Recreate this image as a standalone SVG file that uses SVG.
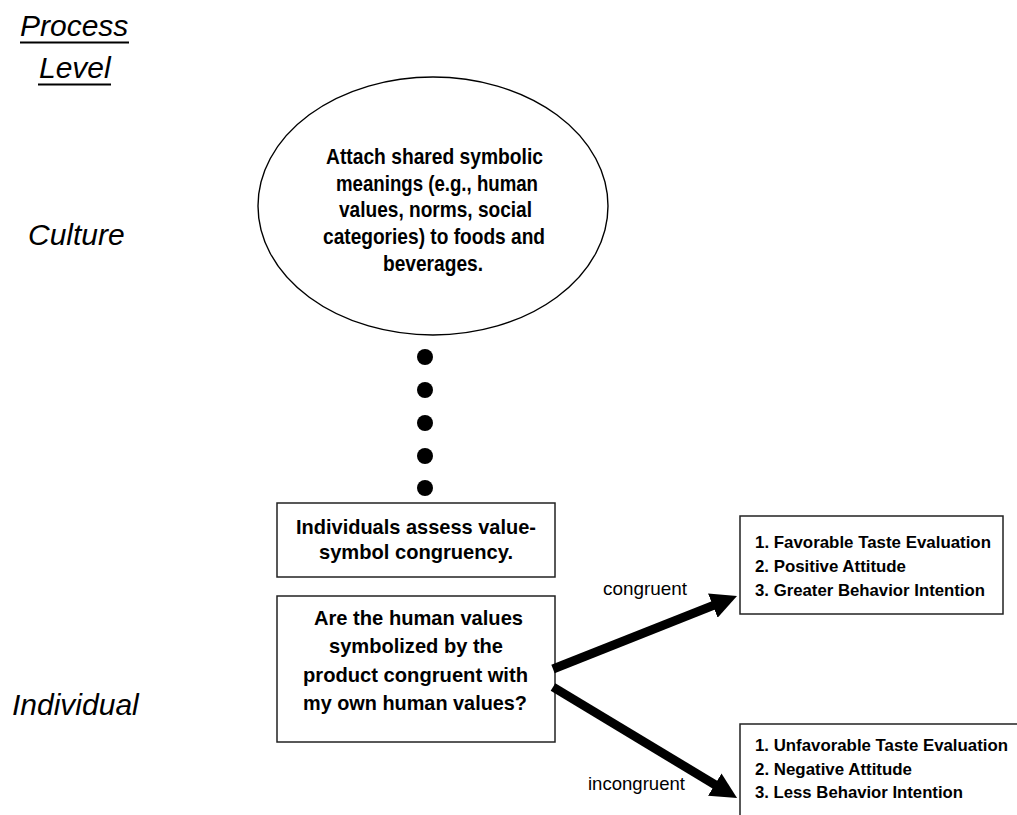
<svg xmlns="http://www.w3.org/2000/svg" width="1017" height="815" viewBox="0 0 1017 815">
<style>
.lvl{font-family:"Liberation Sans",Arial,sans-serif;font-style:italic;font-size:30px;fill:#000}
.b{font-family:"Liberation Sans",Arial,sans-serif;font-weight:bold;fill:#000}
.e{font-size:22px}
.bx{font-size:21px}
.r{font-size:17px}
.lab{font-family:"Liberation Sans",Arial,sans-serif;font-size:19px;fill:#000}
.box{fill:#fff;stroke:#222;stroke-width:1.5}
.arrow{stroke:#000;stroke-width:9;fill:none;marker-end:url(#head)}
</style>
<defs>
<marker id="head" markerUnits="userSpaceOnUse" viewBox="0 0 26 26" markerWidth="26" markerHeight="26" refX="2" refY="13" orient="auto">
<path d="M0,0 L26,13 L0,26 z" fill="#000"/>
</marker>
</defs>
<rect width="1017" height="815" fill="#fff"/>
<g id="level-labels">
<text class="lvl" x="20" y="36">Process</text>
<line x1="20" y1="42.5" x2="129" y2="42.5" stroke="#000" stroke-width="2"/>
<text class="lvl" x="39" y="78">Level</text>
<line x1="38" y1="84.5" x2="111" y2="84.5" stroke="#000" stroke-width="2"/>
<text class="lvl" x="28" y="245">Culture</text>
<text class="lvl" x="12" y="715">Individual</text>
</g>
<g id="culture-ellipse">
<ellipse cx="433" cy="206" rx="175" ry="129" fill="#fff" stroke="#000" stroke-width="1.4"/>
<text class="b e" x="326" y="163.5" textLength="217" lengthAdjust="spacingAndGlyphs">Attach shared symbolic</text>
<text class="b e" x="336" y="190.5" textLength="202" lengthAdjust="spacingAndGlyphs">meanings (e.g., human</text>
<text class="b e" x="339" y="217.3" textLength="193" lengthAdjust="spacingAndGlyphs">values, norms, social</text>
<text class="b e" x="323" y="244" textLength="222" lengthAdjust="spacingAndGlyphs">categories) to foods and</text>
<text class="b e" x="383" y="270.7" textLength="100" lengthAdjust="spacingAndGlyphs">beverages.</text>
</g>
<g id="dots" fill="#000">
<circle cx="425" cy="357" r="8"/>
<circle cx="425" cy="390" r="8"/>
<circle cx="425" cy="423" r="8"/>
<circle cx="425" cy="456" r="8"/>
<circle cx="425" cy="488" r="8"/>
</g>
<g id="assess-box">
<rect class="box" x="277" y="503" width="278" height="74"/>
<text class="b bx" x="296" y="534" textLength="240" lengthAdjust="spacingAndGlyphs">Individuals assess value-</text>
<text class="b bx" x="319" y="559" textLength="194" lengthAdjust="spacingAndGlyphs">symbol congruency.</text>
</g>
<g id="question-box">
<rect class="box" x="277" y="596" width="278" height="146"/>
<text class="b bx" x="314" y="625" textLength="209" lengthAdjust="spacingAndGlyphs">Are the human values</text>
<text class="b bx" x="329" y="653" textLength="174" lengthAdjust="spacingAndGlyphs">symbolized by the</text>
<text class="b bx" x="303" y="681.5" textLength="225" lengthAdjust="spacingAndGlyphs">product congruent with</text>
<text class="b bx" x="303" y="710" textLength="224" lengthAdjust="spacingAndGlyphs">my own human values?</text>
</g>
<g id="positive-box">
<rect class="box" x="740" y="516" width="263" height="98"/>
<text class="b r" x="755" y="548" textLength="236" lengthAdjust="spacingAndGlyphs">1. Favorable Taste Evaluation</text>
<text class="b r" x="755" y="572" textLength="151" lengthAdjust="spacingAndGlyphs">2. Positive Attitude</text>
<text class="b r" x="755" y="596" textLength="230" lengthAdjust="spacingAndGlyphs">3. Greater Behavior Intention</text>
</g>
<g id="negative-box">
<rect class="box" x="740" y="724" width="300" height="120"/>
<text class="b r" x="755" y="751" textLength="253" lengthAdjust="spacingAndGlyphs">1. Unfavorable Taste Evaluation</text>
<text class="b r" x="755" y="775" textLength="157" lengthAdjust="spacingAndGlyphs">2. Negative Attitude</text>
<text class="b r" x="755" y="798" textLength="208" lengthAdjust="spacingAndGlyphs">3. Less Behavior Intention</text>
</g>
<g id="connectors">
<line class="arrow" x1="553" y1="669" x2="714.7" y2="604.9"/>
<line class="arrow" x1="553" y1="687" x2="716.5" y2="785.6"/>
<text class="lab" x="603" y="595" textLength="84" lengthAdjust="spacingAndGlyphs">congruent</text>
<text class="lab" x="588" y="790" textLength="97" lengthAdjust="spacingAndGlyphs">incongruent</text>
</g>
</svg>
